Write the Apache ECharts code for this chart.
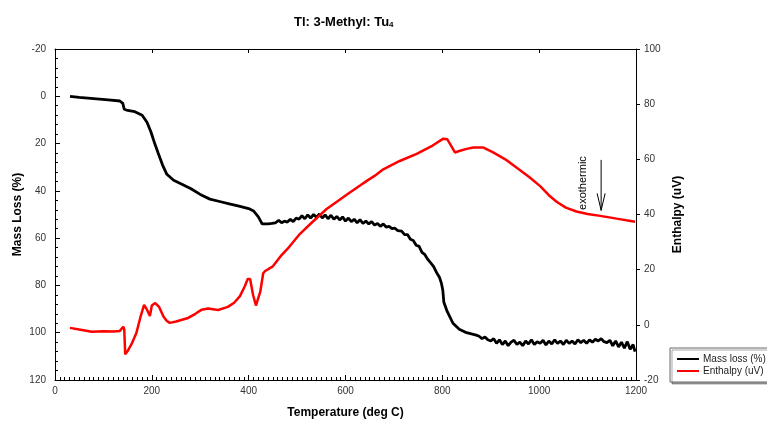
<!DOCTYPE html>
<html>
<head>
<meta charset="utf-8">
<script src="https://cdn.jsdelivr.net/npm/echarts@6/dist/echarts.min.js"></script>
<style>
  html, body { margin: 0; padding: 0; background: #fff; }
  #chart { width: 767px; height: 424px; }
</style>
</head>
<body>
<div id="chart"></div>
<script>
// temperature (deg C) vs mass loss (%)
const massLoss = [
  [31, 0], [50, 0.5], [80, 1], [110, 1.5], [134, 2], [140, 3], [143, 5.5], [150, 6], [165, 6.5],
  [180, 8], [190, 11], [198, 15], [206, 20], [213, 24], [222, 29], [231, 33], [245, 35.5],
  [260, 37], [280, 39], [300, 41.5], [320, 43.5], [340, 44.5], [360, 45.5], [380, 46.5],
  [400, 47.5], [410, 48.5], [420, 51], [428, 54], [440, 54], [448, 53.8],
  [455, 53.5], [462, 52.5], [468, 53.5], [474, 52.8], [480, 53.2], [486, 52], [492, 53],
  [498, 51.5], [504, 52], [510, 50.5], [516, 51.8], [522, 50.2], [528, 51.5], [534, 50],
  [540, 51.2], [546, 49.8], [552, 51.5], [558, 50.2], [564, 51.8], [570, 50.3], [576, 52],
  [582, 50.8], [588, 52.3], [594, 51], [600, 52.8], [606, 51.5], [612, 53], [618, 52],
  [624, 53.5], [630, 52.2], [636, 53.8], [642, 52.8], [648, 54], [654, 53], [660, 54.5],
  [666, 53.8], [672, 55], [678, 54], [684, 55.3], [690, 55], [696, 56], [702, 55.8], [708, 56.8],
  [716, 57], [722, 58.5], [728, 58.5], [734, 60.5], [740, 61], [746, 63], [752, 63.5],
  [758, 66], [764, 67], [770, 69], [776, 70.5], [782, 72], [788, 74.5], [794, 76.5],
  [798, 79], [801, 82], [803, 87], [810, 91], [822, 96], [835, 98.5], [850, 100], [860, 100.5],
  [870, 101], [876, 101.5], [882, 102.5], [888, 101.8], [894, 103], [900, 103.5], [906, 102.5],
  [912, 104.5], [918, 103], [924, 105], [930, 103.5], [936, 105.5], [942, 104], [948, 103.2],
  [954, 105], [960, 104], [966, 105.5], [972, 103.5], [978, 104.8], [984, 103], [990, 105],
  [996, 103.8], [1002, 104.5], [1008, 103.2], [1014, 105.2], [1020, 103.5], [1026, 104.8],
  [1032, 103], [1038, 104.5], [1044, 103.5], [1050, 105], [1056, 103.2], [1062, 104.5],
  [1068, 103.5], [1074, 104.8], [1080, 103], [1086, 104.2], [1092, 103.2], [1098, 104.5],
  [1104, 103], [1110, 104], [1116, 102.8], [1122, 103.5], [1128, 102.5], [1134, 103.8],
  [1140, 104.2], [1146, 103.2], [1152, 105.5], [1158, 103.5], [1164, 106], [1170, 104],
  [1176, 106.5], [1182, 103.8], [1188, 107], [1194, 105], [1198, 108]
];

// temperature (deg C) vs enthalpy (uV)
const enthalpy = [
  [31, -1.1], [50, -1.7], [76, -2.5], [100, -2.3], [120, -2.4], [134, -2.2], [141, -0.7],
  [143, -1.5], [145, -10.7], [150, -9.5], [158, -7], [168, -3], [176, 2.5], [184, 7.2],
  [190, 5.5], [196, 3.2], [200, 7], [207, 7.9], [215, 6.5], [224, 3], [231, 1.4], [237, 0.7],
  [250, 1.2], [275, 2.5], [290, 4], [303, 5.5], [316, 5.9], [337, 5.4], [357, 6.5], [370, 8],
  [382, 10.4], [392, 14], [398, 16.6], [403, 16.6], [409, 10.9], [415, 7], [419, 6.8],
  [424, 12], [430, 18.7], [434, 19.5], [450, 21.2], [468, 25.3], [481, 27.7], [506, 33],
  [530, 37], [561, 42], [585, 45], [609, 48], [630, 50.5], [644, 52.2], [660, 54], [678, 56.4],
  [712, 59.4], [747, 62], [780, 65], [802, 67.5], [810, 67.3], [818, 65], [826, 62.5],
  [835, 63], [850, 63.8], [864, 64.3], [884, 64.3], [905, 62.5], [930, 60], [953, 57],
  [980, 53.5], [1002, 50.3], [1020, 47], [1036, 44.6], [1055, 42.5], [1077, 41.1],
  [1100, 40.2], [1126, 39.5], [1160, 38.5], [1198, 37.4]
];

const seriesNames = ['Mass loss (%)', 'Enthalpy (uV)'];

const font = "'Liberation Sans', Arial, Helvetica, sans-serif";
const narrow = "'Liberation Sans Narrow', 'Liberation Sans', Arial, sans-serif";

let myChart = echarts.init(document.getElementById('chart'));

let tickLabel = { color: '#333', fontSize: 10, fontFamily: font, formatter: v => String(v) };
let axisName = { color: '#000', fontSize: 12, fontWeight: 'bold', fontFamily: narrow };

myChart.setOption({
  animation: false,
  title: {
    text: 'Tl: 3-Methyl: Tu{sub|4}',
    left: 289,
    top: 10,
    textStyle: {
      fontSize: 13, fontWeight: 'bold', color: '#000', fontFamily: narrow,
      rich: {
        sub: { fontSize: 8, fontWeight: 'bold', fontFamily: narrow, verticalAlign: 'bottom', padding: [6, 0, 0, 0] }
      }
    }
  },
  grid: { left: 55, right: 131, top: 49, bottom: 41 },
  legend: {
    orient: 'vertical',
    left: 670,
    top: 348,
    data: seriesNames,
    icon: 'rect',
    itemWidth: 22,
    itemHeight: 2,
    itemGap: 2,
    padding: [6, 40, 6, 7],
    borderColor: '#666',
    borderWidth: 1,
    backgroundColor: '#fff',
    shadowColor: 'rgba(0,0,0,0.35)',
    shadowOffsetX: 2,
    shadowOffsetY: 2,
    textStyle: { fontSize: 10, color: '#222', fontFamily: font, padding: [0, 0, 0, -1] }
  },
  xAxis: [{
    type: 'value',
    min: 0,
    max: 1200,
    interval: 200,
    name: 'Temperature (deg C)',
    nameLocation: 'middle',
    nameGap: 27,
    nameTextStyle: axisName,
    axisLine: { onZero: false, lineStyle: { color: '#000', width: 1 } },
    axisTick: { inside: true, length: 5, lineStyle: { color: '#000' } },
    minorTick: { show: true, splitNumber: 20, length: 3, lineStyle: { color: '#000' } },
    axisLabel: Object.assign({ margin: 6 }, tickLabel),
    splitLine: { show: false }
  }, {
    type: 'value',
    position: 'top',
    min: 0,
    max: 1200,
    interval: 200,
    axisLine: { show: true, onZero: false, lineStyle: { color: '#000', width: 1 } },
    axisTick: { inside: true, length: 4, lineStyle: { color: '#000' } },
    axisLabel: { show: false },
    splitLine: { show: false }
  }],
  yAxis: [{
    type: 'value',
    inverse: true,
    min: -20,
    max: 120,
    interval: 20,
    name: 'Mass Loss (%)',
    nameLocation: 'middle',
    nameRotate: 90,
    nameGap: 31,
    nameMoveOverlap: false,
    nameTextStyle: axisName,
    axisLine: { show: true, onZero: false, lineStyle: { color: '#000', width: 1 } },
    axisTick: { inside: true, length: 5, lineStyle: { color: '#000' } },
    minorTick: { show: true, splitNumber: 5, length: 3, lineStyle: { color: '#000' } },
    axisLabel: Object.assign({ margin: 9 }, tickLabel),
    splitLine: { show: false }
  }, {
    type: 'value',
    position: 'right',
    min: -20,
    max: 100,
    interval: 20,
    name: 'Enthalpy (uV)',
    nameLocation: 'middle',
    nameRotate: 90,
    nameGap: 36,
    nameTextStyle: axisName,
    axisLine: { show: true, onZero: false, lineStyle: { color: '#000', width: 1 } },
    axisTick: { inside: false, length: 4, lineStyle: { color: '#000' } },
    axisLabel: Object.assign({ margin: 8 }, tickLabel),
    splitLine: { show: false }
  }],
  series: [{
    name: seriesNames[0],
    type: 'line',
    xAxisIndex: 0,
    yAxisIndex: 0,
    data: massLoss,
    showSymbol: false,
    color: '#000',
    lineStyle: { color: '#000', width: 2.8 }
  }, {
    name: seriesNames[1],
    type: 'line',
    xAxisIndex: 0,
    yAxisIndex: 1,
    data: enthalpy,
    showSymbol: false,
    color: '#ff0000',
    lineStyle: { color: '#ff0000', width: 2.5 }
  }]
});

// "exothermic" annotation, placed in data coordinates
let txt = myChart.convertToPixel({ xAxisIndex: 0, yAxisIndex: 1 }, [1090, 51.4]);
let a0 = myChart.convertToPixel({ xAxisIndex: 0, yAxisIndex: 1 }, [1128, 59.8]);
let a1 = myChart.convertToPixel({ xAxisIndex: 0, yAxisIndex: 1 }, [1128, 41.5]);
myChart.setOption({
  graphic: [{
    type: 'text',
    x: txt[0],
    y: txt[1],
    rotation: Math.PI / 2,
    style: { text: 'exothermic', fill: '#000', fontSize: 11, fontFamily: font, align: 'center', verticalAlign: 'middle' }
  }, {
    type: 'line',
    shape: { x1: a0[0], y1: a0[1], x2: a1[0], y2: a1[1] },
    style: { stroke: '#000', lineWidth: 1 }
  }, {
    type: 'polyline',
    shape: { points: [[a1[0] - 4, a1[1] - 17], [a1[0], a1[1]], [a1[0] + 4, a1[1] - 17]] },
    style: { stroke: '#000', lineWidth: 1, fill: null }
  }]
});
</script>
</body>
</html>
